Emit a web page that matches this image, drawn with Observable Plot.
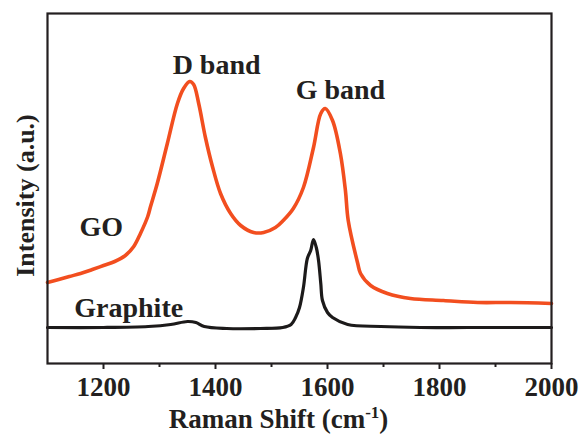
<!DOCTYPE html>
<html>
<head>
<meta charset="utf-8">
<script src="https://cdn.jsdelivr.net/npm/d3@7"></script>
<script src="https://cdn.jsdelivr.net/npm/@observablehq/plot@0.6"></script>
<style>
  html, body { margin: 0; padding: 0; background: #fff; }
  #chart svg { display: block; }
</style>
</head>
<body>
<div id="chart"></div>
<script>
// GO Raman spectrum (wavenumber, intensity a.u.)
const goShift = [1100,1120,1139,1159,1180,1200,1220,1239,1254,1266,1279,1284,1296,1314,1332,1343,1354,1361,1370,1382,1395,1409,1427,1445,1468,1486,1507,1521,1539,1557,1575,1588,1596,1609,1623,1632,1637,1654,1659,1677,1707,1748,1807,1868,1927,2000];
const goIntensity = [81,84,87,90,94,98,102,108,117,130,147,157,180,220,260,275,282,279,260,226,196,170,150,138,131,131,136,143,155,176,216,250,255,243,210,173,143,100,90,78,70,65,63,61,61,60];

// Graphite Raman spectrum
const grShift = [1100,1200,1280,1320,1350,1365,1380,1420,1480,1520,1535,1543,1550,1557,1564,1570,1575,1580,1584,1588,1591,1600,1609,1636,1695,1766,1850,2000];
const grIntensity = [36,36,37,39,42,41,37,35,35,36,39,46,56,76,105,113,124,116,103,80,63,51,46,39,37,36,36,36];

const xTicks = [1200,1400,1600,1800,2000];
const xMinorTicks = [1300,1500,1700,1900];

const labels = ["D band","G band","GO","Graphite"];
const labelShift = [1402,1623,1196,1245];
const labelIntensity = [298,273,136,55];

const xLabel = "Raman Shift (cm-1)";
const yLabel = "Intensity (a.u.)";

const goData = goShift.map((x,i)=>({x, y: goIntensity[i]}));
const grData = grShift.map((x,i)=>({x, y: grIntensity[i]}));
const labelData = labels.map((t,i)=>({t, x: labelShift[i], y: labelIntensity[i]}));

const font = "Liberation Serif";
const ink = "#231f20";

const chart = Plot.plot({
  width: 579,
  height: 435,
  marginLeft: 47,
  marginRight: 28,
  marginTop: 13,
  marginBottom: 72,
  style: { fontFamily: font, color: ink, background: "#fff" },
  x: { domain: [1100, 2000] },
  y: { domain: [0, 350], axis: null },
  marks: [
    Plot.line(grData, { x: "x", y: "y", stroke: "#1c1a1a", strokeWidth: 3.2, curve: "catmull-rom" }),
    Plot.line(goData, { x: "x", y: "y", stroke: "#f24e1f", strokeWidth: 3.6, curve: "catmull-rom" }),
    Plot.frame({ stroke: ink, strokeWidth: 2.2 }),
    Plot.axisX({ ticks: xTicks, tickFormat: "d", tickSize: 6, tickPadding: 7, fontSize: 27, fontWeight: "bold", fontFamily: font, label: null, stroke: ink, strokeWidth: 2, fill: ink }),
    Plot.axisX({ ticks: xMinorTicks, tickSize: 4, tickFormat: () => "", label: null, stroke: ink, strokeWidth: 2 }),
    Plot.text(labelData, { x: "x", y: "y", text: "t", fontSize: 28, fontWeight: "bold", fontFamily: font, fill: ink }),
    Plot.text([xLabel], { frameAnchor: "bottom", lineAnchor: "bottom", dy: 64, dx: -21, fontSize: 27, fontWeight: "bold", fontFamily: font, fill: ink, className: "xlab" }),
    Plot.text([yLabel], { frameAnchor: "left", textAnchor: "middle", rotate: -90, dx: -22, dy: 7, fontSize: 26, fontWeight: "bold", fontFamily: font, fill: ink })
  ]
});

// Render superscript "-1" in the x-axis label
d3.select(chart).selectAll("g.xlab text").each(function() {
  const t = d3.select(this);
  t.text(null);
  t.append("tspan").text("Raman Shift (cm");
  t.append("tspan").attr("font-size", 17).attr("dy", "-0.55em").text("-1");
  t.append("tspan").attr("dy", "0.36em").text(")");
});

document.getElementById("chart").appendChild(chart);
</script>
</body>
</html>
